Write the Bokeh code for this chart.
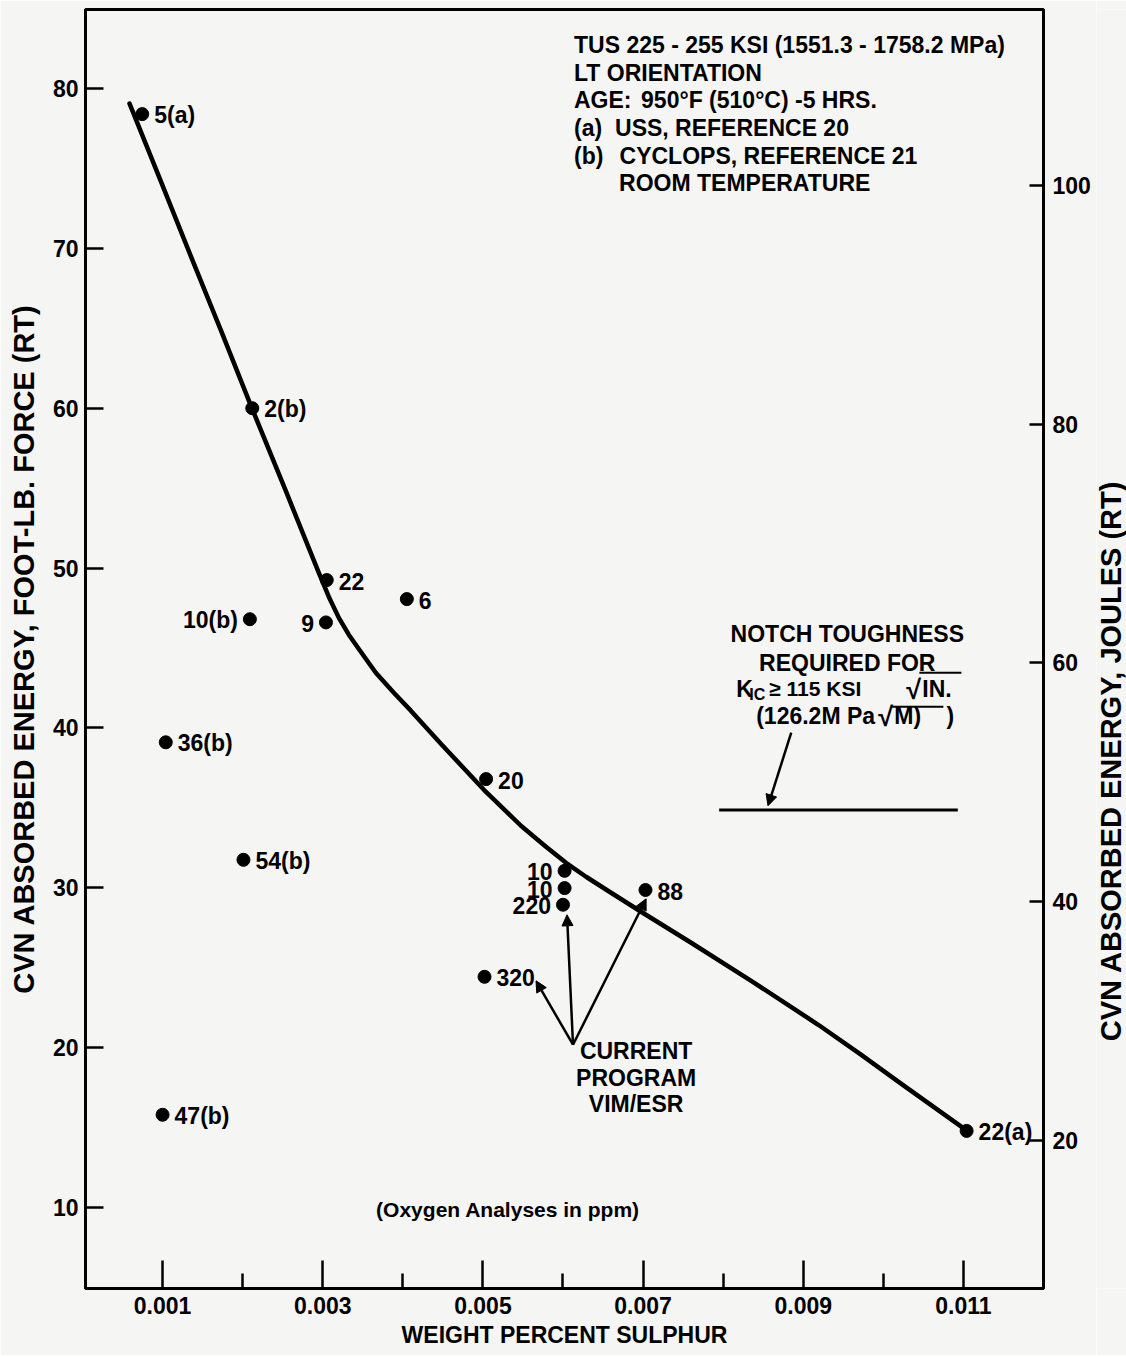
import math
from bokeh.plotting import figure
from bokeh.layouts import row
from bokeh.models import (Range1d, LinearAxis, FixedTicker, PrintfTickFormatter,
                          Label, Arrow, NormalHead)
from bokeh.core.properties import value
from bokeh.embed import file_html
from bokeh.resources import INLINE

FONT = "Liberation Sans"
BG = "#f5f5f3"

# ---------------- data ----------------
sulphur = [0.000746, 0.00212, 0.00305, 0.00405, 0.00209, 0.00304, 0.00104, 0.00504,
           0.00201, 0.00602, 0.00602, 0.00600, 0.00703, 0.00502, 0.00100, 0.01104]
cvn = [78.4, 60.0, 49.25, 48.06, 46.8, 46.6, 39.1, 36.8,
       31.75, 31.06, 29.98, 28.94, 29.86, 24.43, 15.8, 14.79]
point_labels = ["5(a)", "2(b)", "22", "6", "10(b)", "9", "36(b)", "20",
                "54(b)", "10", "10", "220", "88", "320", "47(b)", "22(a)"]
label_side = ["R", "R", "R", "R", "L", "L", "R", "R",
              "R", "L", "L", "L", "R", "R", "R", "R"]

curve_sulphur = [0.0005875, 0.000975, 0.00135, 0.001725, 0.0021125, 0.0025375, 0.00295,
                 0.003075, 0.0032, 0.003325, 0.003475, 0.0036625, 0.0038875, 0.0041,
                 0.004475, 0.0050125, 0.005475, 0.0057875, 0.0060375, 0.0062875, 0.0066,
                 0.006975, 0.0076, 0.00835, 0.0091875, 0.009725, 0.010225, 0.0110125]
curve_cvn = [79.06, 74.24, 69.55, 64.92, 60.04, 54.84, 49.71,
             48.21, 46.90, 45.83, 44.77, 43.45, 42.20, 41.08,
             39.01, 36.13, 33.88, 32.57, 31.56, 30.69, 29.69,
             28.50, 26.56, 24.18, 21.43, 19.55, 17.73, 14.92]

notch_sulphur = [0.00795, 0.01093]
notch_cvn = [34.86, 34.86]

x_ticks = [0.001, 0.003, 0.005, 0.007, 0.009, 0.011]
x_minor_ticks = [0.002, 0.004, 0.006, 0.008, 0.010]
y_ticks = [10, 20, 30, 40, 50, 60, 70, 80]
joule_ticks = [20, 40, 60, 80, 100]

H = 1355

# ---------------- main figure ----------------
p = figure(width=1096, height=H,
           x_range=Range1d(0.0000375, 0.012), y_range=Range1d(4.931, 84.944),
           x_axis_type=None, y_axis_type=None,
           output_backend="svg", toolbar_location=None,
           min_border_left=85, min_border_right=53, min_border_top=9, min_border_bottom=67,
           background_fill_color=BG, border_fill_color=BG,
           outline_line_color="black", outline_line_width=3)
p.extra_y_ranges = {"joules": Range1d(7.60, 114.74)}


def style_axis(ax, tick_in, minor_in, standoff, title=None, title_standoff=5, title_size="23px"):
    ax.axis_line_width = 3
    ax.axis_line_color = "black"
    ax.major_tick_in = tick_in
    ax.major_tick_out = 0
    ax.minor_tick_in = minor_in
    ax.minor_tick_out = 0
    ax.major_tick_line_width = 2.5
    ax.minor_tick_line_width = 2.5
    ax.major_label_text_font = FONT
    ax.major_label_text_font_style = "bold"
    ax.major_label_text_font_size = "23px"
    ax.major_label_text_color = "black"
    ax.major_label_standoff = standoff
    if title is not None:
        ax.axis_label = title
        ax.axis_label_standoff = title_standoff
        ax.axis_label_text_font = FONT
        ax.axis_label_text_font_style = "bold"
        ax.axis_label_text_font_size = title_size
        ax.axis_label_text_color = "black"


xaxis = LinearAxis(ticker=FixedTicker(ticks=x_ticks, minor_ticks=x_minor_ticks),
                   formatter=PrintfTickFormatter(format="%.3f"))
style_axis(xaxis, 28, 15, 8, "WEIGHT PERCENT SULPHUR", 5, "23px")
p.add_layout(xaxis, "below")

yaxis = LinearAxis(ticker=FixedTicker(ticks=y_ticks, minor_ticks=[]))
style_axis(yaxis, 18, 0, 7, "CVN ABSORBED ENERGY, FOOT-LB. FORCE (RT)", 10, "29px")
p.add_layout(yaxis, "left")

jaxis = LinearAxis(y_range_name="joules", ticker=FixedTicker(ticks=joule_ticks, minor_ticks=[]))
style_axis(jaxis, 14, 0, 9)
p.add_layout(jaxis, "right")

# curve and points
p.line(curve_sulphur, curve_cvn, line_width=4.5, line_color="black",
       line_join="round", line_cap="round")
p.scatter(sulphur, cvn, size=13, fill_color="black", line_color="black")

# point labels
for side, off, align in (("R", 12, "left"), ("L", -12, "right")):
    idx = [i for i, s in enumerate(label_side) if s == side]
    p.text(x=[sulphur[i] for i in idx], y=[cvn[i] for i in idx],
           text=[point_labels[i] for i in idx],
           x_offset=off, y_offset=1, text_align=align, text_baseline="middle",
           text_font=value(FONT), text_font_style="bold", text_font_size="23px",
           text_color="black")

# notch toughness requirement line
p.line(notch_sulphur, notch_cvn, line_width=3, line_color="black")


def lab(x, y, text, align="left", size="23px"):
    p.add_layout(Label(x=x, y=y, text=text, text_align=align, text_baseline="middle",
                       text_font=FONT, text_font_style="bold", text_font_size=size,
                       text_color="black"))


# info block
lab(0.0061375, 82.75, "TUS 225 - 255 KSI (1551.3 - 1758.2 MPa)")
lab(0.0061375, 81.00, "LT ORIENTATION")
lab(0.0061375, 79.31, "AGE:")
lab(0.006975, 79.31, "950°F (510°C) -5 HRS.")
lab(0.0061375, 77.56, "(a)")
lab(0.00665, 77.56, "USS, REFERENCE 20")
lab(0.0061375, 75.81, "(b)")
lab(0.0067063, 75.81, "CYCLOPS, REFERENCE 21")
lab(0.0067, 74.12, "ROOM TEMPERATURE")

# notch toughness note
lab(0.00955, 45.89, "NOTCH TOUGHNESS", align="center")
lab(0.00955, 44.08, "REQUIRED FOR", align="center")
lab(0.0081625, 42.45, "K")
lab(0.008325, 42.08, "IC", size="16px")
lab(0.008575, 42.45, "≥ 115 KSI", size="21px")
lab(0.0102875, 42.40, "√", size="27px")
lab(0.0104875, 42.45, "IN.")
lab(0.0084125, 40.76, "(126.2M Pa")
lab(0.0099375, 40.71, "√", size="27px")
lab(0.0101375, 40.76, "M)")
lab(0.0107875, 40.76, ")")
p.segment(x0=[0.01045, 0.0101], y0=[43.45, 41.33], x1=[0.010975, 0.01075], y1=[43.45, 41.33],
          line_width=2, line_color="black")

# current program note
lab(0.006913, 19.80, "CURRENT", align="center")
lab(0.006913, 18.11, "PROGRAM", align="center")
lab(0.006913, 16.48, "VIM/ESR", align="center")

lab(0.005313, 9.85, "(Oxygen Analyses in ppm)", align="center", size="21px")

# arrows
arrows = [
    (0.00885, 39.70, 0.00856, 35.13),
    (0.006125, 20.18, 0.005663, 24.18),
    (0.006125, 20.18, 0.00605, 28.31),
    (0.006125, 20.18, 0.007038, 29.31),
]
for xs, ys, xe, ye in arrows:
    p.add_layout(Arrow(end=NormalHead(size=11, fill_color="black", line_color="black", line_width=1),
                       x_start=xs, y_start=ys, x_end=xe, y_end=ye,
                       line_width=2.5, line_color="black"))

# ---------------- right-hand title strip (reads bottom to top) ----------------
pt = figure(width=30, height=H, x_range=Range1d(0, 30), y_range=Range1d(0, H),
            x_axis_type=None, y_axis_type=None, output_backend="svg", toolbar_location=None,
            min_border=0, background_fill_color=BG, border_fill_color=BG,
            outline_line_color=None)
pt.text(x=[14], y=[H - 796], text=["CVN ABSORBED ENERGY, JOULES (RT)"], angle=math.pi / 2,
        text_align="center", text_baseline="middle", text_font=value(FONT),
        text_font_style="bold", text_font_size="29px", text_color="black")

layout = row(p, pt)
open("out.html", "w").write(file_html(layout, INLINE))
